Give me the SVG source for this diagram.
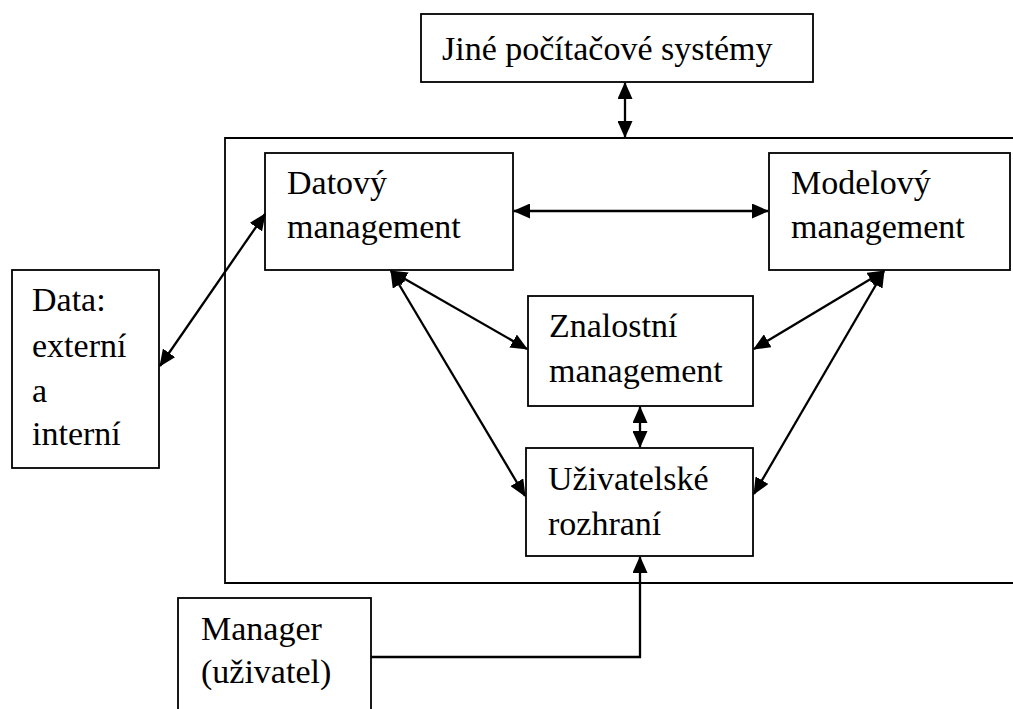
<svg xmlns="http://www.w3.org/2000/svg" width="1013" height="709" viewBox="0 0 1013 709">
<style>
.box{fill:#fff;stroke:#000;stroke-width:1.8}
.frame{fill:none;stroke:#000;stroke-width:1.8}
.t{font-family:"Liberation Serif","DejaVu Serif",serif;font-size:34px;fill:#000}
.c{fill:none;stroke:#000;stroke-width:2.3}
</style>
<defs>
<marker id="ah" markerUnits="userSpaceOnUse" markerWidth="17" markerHeight="15" refX="16" refY="7.5" orient="auto-start-reverse" viewBox="0 0 17 15">
<path d="M0,0 L17,7.5 L0,15 Z" fill="#000"/>
</marker>
</defs>
<rect width="1013" height="709" fill="#fff"/>
<g id="frame"><path class="frame" d="M1020,138 H225 V583 H1020"/></g>
<g id="n-jine"><rect class="box" x="421" y="14" width="392" height="68"/><text class="t" x="442" y="60">Jiné počítačové systémy</text></g>
<g id="n-datovy"><rect class="box" x="265" y="153" width="248" height="117"/><text class="t" x="287" y="194">Datový</text><text class="t" x="287" y="238">management</text></g>
<g id="n-modelovy"><rect class="box" x="769" y="153" width="241" height="117"/><text class="t" x="791" y="194">Modelový</text><text class="t" x="791" y="238">management</text></g>
<g id="n-data"><rect class="box" x="12" y="270" width="147" height="198"/><text class="t" x="32" y="311">Data:</text><text class="t" x="32" y="357">externí</text><text class="t" x="32" y="402">a</text><text class="t" x="32" y="445">interní</text></g>
<g id="n-znalostni"><rect class="box" x="528" y="296" width="225" height="110"/><text class="t" x="549" y="337">Znalostní</text><text class="t" x="549" y="382">management</text></g>
<g id="n-uzivatelske"><rect class="box" x="526" y="448" width="227" height="108"/><text class="t" x="548" y="490">Uživatelské</text><text class="t" x="548" y="535">rozhraní</text></g>
<g id="n-manager"><rect class="box" x="178" y="598" width="193" height="120"/><text class="t" x="201" y="640">Manager</text><text class="t" x="201" y="683">(uživatel)</text></g>
<g id="connectors">
<line class="c" x1="625" y1="83" x2="625" y2="137" marker-start="url(#ah)" marker-end="url(#ah)"/>
<line class="c" x1="514" y1="211" x2="768" y2="211" marker-start="url(#ah)" marker-end="url(#ah)"/>
<line class="c" x1="160" y1="366" x2="265" y2="214" marker-start="url(#ah)" marker-end="url(#ah)"/>
<line class="c" x1="391" y1="271" x2="527" y2="349" marker-start="url(#ah)" marker-end="url(#ah)"/>
<line class="c" x1="391" y1="271" x2="525" y2="496" marker-start="url(#ah)" marker-end="url(#ah)"/>
<line class="c" x1="884" y1="271" x2="754" y2="349" marker-start="url(#ah)" marker-end="url(#ah)"/>
<line class="c" x1="884" y1="271" x2="754" y2="494" marker-start="url(#ah)" marker-end="url(#ah)"/>
<line class="c" x1="640" y1="407" x2="640" y2="447" marker-start="url(#ah)" marker-end="url(#ah)"/>
<polyline class="c" points="371,657 640,657 640,557" marker-end="url(#ah)"/>
</g>
</svg>
